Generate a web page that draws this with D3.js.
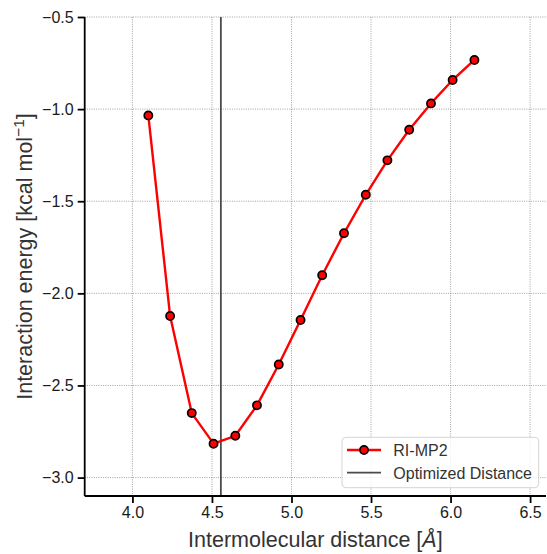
<!DOCTYPE html>
<html>
<head>
<meta charset="utf-8">
<script src="https://cdn.jsdelivr.net/npm/d3@7"></script>
<style>
  html, body { margin: 0; padding: 0; background: #fff; }
  svg { display: block; font-family: "Liberation Sans", Arial, sans-serif; }
</style>
</head>
<body>
<svg id="chart" width="547" height="554"></svg>
<script>
// RI-MP2 interaction energy scan vs. intermolecular distance
const distances = [4.100, 4.237, 4.373, 4.510, 4.647, 4.783, 4.920, 5.057,
                   5.193, 5.330, 5.467, 5.603, 5.740, 5.877, 6.013, 6.150];
const energies  = [-1.034, -2.123, -2.650, -2.816, -2.773, -2.608, -2.386, -2.145,
                   -1.902, -1.674, -1.465, -1.278, -1.112, -0.969, -0.842, -0.733];
const optimizedDistance = 4.556;
const xTicks = [4.0, 4.5, 5.0, 5.5, 6.0, 6.5];
const yTicks = [-3.0, -2.5, -2.0, -1.5, -1.0, -0.5];
const seriesLabels = ["RI-MP2", "Optimized Distance"];

const svg = d3.select("#chart");
const plotL = 84.7, plotR = 546, plotT = 17, plotB = 496;

const x = d3.scaleLinear().domain([3.7, 6.6]).range([plotL, plotR]);
const y = d3.scaleLinear().domain([-3.1, -0.5]).range([plotB, plotT]);
const fmt = v => d3.format(".1f")(v).replace("-", "\u2212");

// grid
const grid = svg.append("g");
grid.selectAll("line.gx").data(xTicks).join("line")
  .attr("x1", d => x(d)).attr("x2", d => x(d))
  .attr("y1", plotT).attr("y2", plotB)
  .attr("stroke", "#7a7a7a").attr("stroke-width", 0.7)
  .attr("stroke-dasharray", "1,1.3");
grid.selectAll("line.gy").data(yTicks).join("line")
  .attr("x1", plotL).attr("x2", plotR)
  .attr("y1", d => y(d)).attr("y2", d => y(d))
  .attr("stroke", "#7a7a7a").attr("stroke-width", 0.7)
  .attr("stroke-dasharray", "1,1.3");

// optimized distance marker
svg.append("line")
  .attr("x1", x(optimizedDistance)).attr("x2", x(optimizedDistance))
  .attr("y1", plotT).attr("y2", plotB)
  .attr("stroke", "#4a4a4a").attr("stroke-width", 1.8);

// data line + markers
const line = d3.line().x((d, i) => x(distances[i])).y(d => y(d));
svg.append("path").datum(energies)
  .attr("d", line)
  .attr("fill", "none").attr("stroke", "#ff0000").attr("stroke-width", 2.4)
  .attr("stroke-linejoin", "round");
svg.append("g").selectAll("circle").data(energies).join("circle")
  .attr("cx", (d, i) => x(distances[i])).attr("cy", d => y(d))
  .attr("r", 4.1)
  .attr("fill", "#ff0000").attr("stroke", "#000").attr("stroke-width", 1.7);

// axes
const xAxis = svg.append("g").attr("transform", `translate(0,${plotB})`)
  .call(d3.axisBottom(x).tickValues(xTicks).tickFormat(fmt).tickSize(7).tickPadding(4));
const yAxis = svg.append("g").attr("transform", `translate(${plotL},0)`)
  .call(d3.axisLeft(y).tickValues(yTicks).tickFormat(fmt).tickSize(7).tickPadding(4));
[xAxis, yAxis].forEach(a => {
  a.select(".domain").attr("stroke", "#000").attr("stroke-width", 1.8);
  a.selectAll(".tick line").attr("stroke", "#000").attr("stroke-width", 1.8);
  a.selectAll(".tick text").attr("fill", "#1a1a1a")
    .style("font-size", "16px").style("font-family", "Liberation Sans, Arial, sans-serif");
});
xAxis.select(".domain").attr("d", `M${plotL},0H${plotR}`);
yAxis.select(".domain").attr("d", `M0,${plotB}V${plotT}`);

// axis titles
const xt = svg.append("text")
  .attr("x", (plotL + plotR) / 2).attr("y", 547)
  .attr("text-anchor", "middle").attr("fill", "#333")
  .style("font-size", "21.5px");
xt.append("tspan").text("Intermolecular distance [");
xt.append("tspan").style("font-style", "italic").text("\u00C5");
xt.append("tspan").text("]");

const yt = svg.append("text")
  .attr("transform", `translate(32,${(plotT + plotB) / 2}) rotate(-90)`)
  .attr("text-anchor", "middle").attr("fill", "#333")
  .style("font-size", "21.5px");
yt.append("tspan").text("Interaction energy [kcal mol");
yt.append("tspan").attr("dy", -8.5).style("font-size", "15.5px").text("\u22121");
yt.append("tspan").attr("dy", 8.5).text("]");

// legend
const lg = svg.append("g");
lg.append("rect")
  .attr("x", 342).attr("y", 437.3).attr("width", 196.7).attr("height", 50.4)
  .attr("rx", 4).attr("fill", "#fff").attr("fill-opacity", 0.8)
  .attr("stroke", "#d4d4d4").attr("stroke-width", 1);
lg.append("line").attr("x1", 347).attr("x2", 381).attr("y1", 450).attr("y2", 450)
  .attr("stroke", "#ff0000").attr("stroke-width", 2.4);
lg.append("circle").attr("cx", 364).attr("cy", 450).attr("r", 4.1)
  .attr("fill", "#ff0000").attr("stroke", "#000").attr("stroke-width", 1.7);
lg.append("line").attr("x1", 347).attr("x2", 381).attr("y1", 472.7).attr("y2", 472.7)
  .attr("stroke", "#4a4a4a").attr("stroke-width", 1.8);
lg.selectAll("text").data(seriesLabels).join("text")
  .attr("x", 393.3).attr("y", (d, i) => 455.8 + i * 22.7)
  .attr("fill", "#333").style("font-size", "16px")
  .text(d => d);
</script>
</body>
</html>
